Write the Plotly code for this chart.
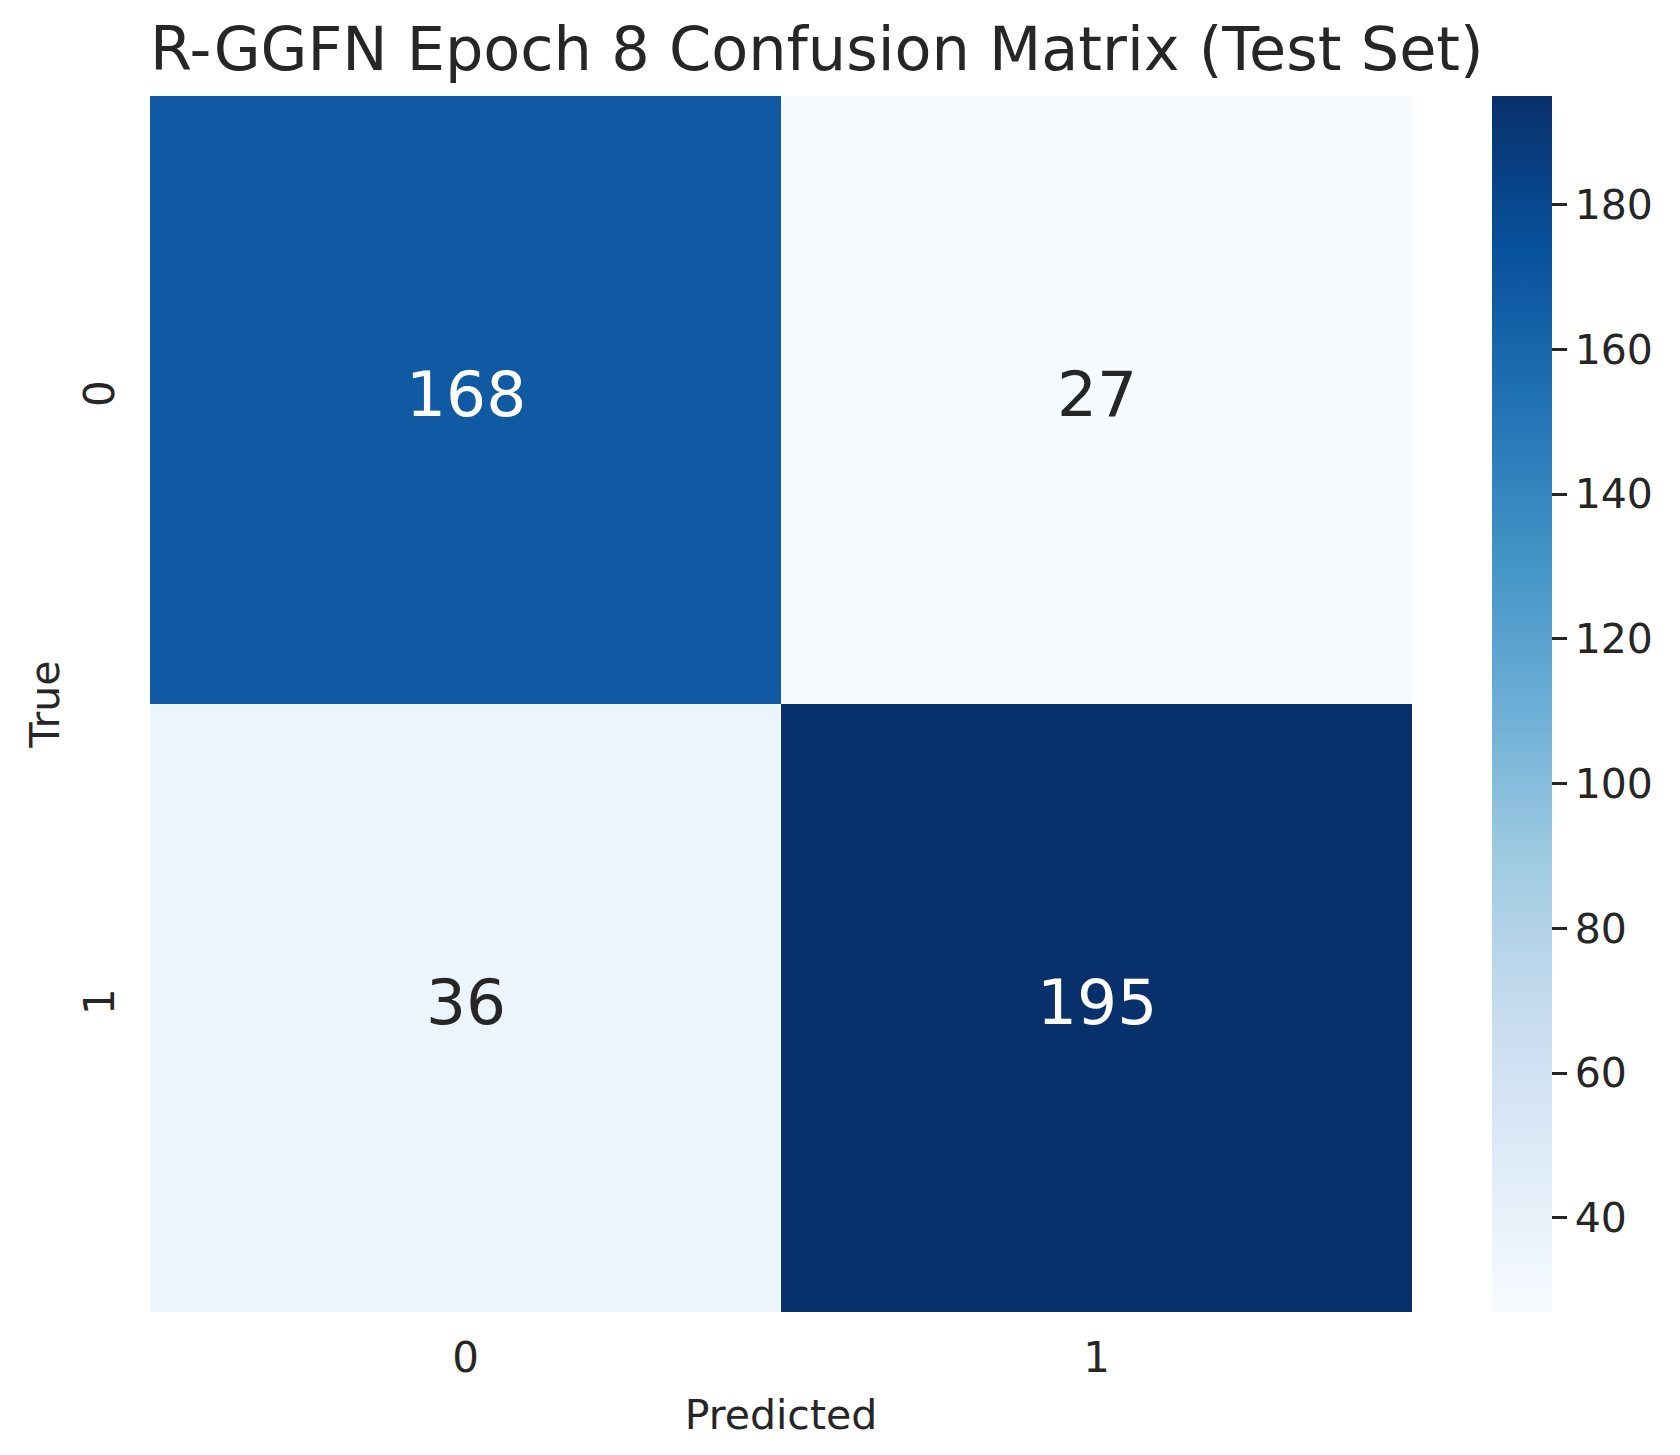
import plotly.graph_objects as go

# confusion matrix for the test set, epoch 8
class_labels = ["0", "1"]
counts = [[168, 27],
          [36, 195]]
cbar_ticks = [40, 60, 80, 100, 120, 140, 160, 180]

title_text = "R-GGFN Epoch 8 Confusion Matrix (Test Set)"
font_family = "DejaVu Sans"
ink = "#262626"


def main():
    flat = [v for row in counts for v in row]
    zmin, zmax = min(flat), max(flat)

    fig = go.Figure(go.Heatmap(
        z=counts,
        x=class_labels,
        y=class_labels,
        colorscale="Blues",
        zmin=zmin,
        zmax=zmax,
        hoverinfo="skip",
        colorbar=dict(
            x=1.0634, xanchor="left", xpad=0,
            y=0.5, yanchor="middle", ypad=0,
            len=1, lenmode="fraction",
            thickness=60, thicknessmode="pixels",
            outlinewidth=0,
            tickvals=cbar_ticks,
            ticks="outside", ticklen=15, tickwidth=2.5, tickcolor=ink,
            tickfont=dict(size=41, color=ink, family=font_family),
        ),
    ))

    # cell counts, white on the dark cells like seaborn does
    mid = (zmin + zmax) / 2
    for i, row_lab in enumerate(class_labels):
        for j, col_lab in enumerate(class_labels):
            v = counts[i][j]
            fig.add_annotation(
                x=col_lab, y=row_lab, text=str(v), showarrow=False,
                yshift=6,
                font=dict(size=63, family=font_family,
                          color="white" if v > mid else ink),
            )

    fig.update_xaxes(
        title=dict(text="Predicted", standoff=19,
                   font=dict(size=41, color=ink, family=font_family)),
        tickfont=dict(size=42, color=ink, family=font_family),
        ticks="", showgrid=False, zeroline=False, showline=False,
        ticklabelstandoff=17,
    )
    fig.update_yaxes(
        title=dict(text="True", standoff=2,
                   font=dict(size=41, color=ink, family=font_family)),
        tickfont=dict(size=42, color=ink, family=font_family),
        ticks="", showgrid=False, zeroline=False, showline=False,
        tickangle=-90, autorange="reversed",
        ticklabelstandoff=27,
    )

    fig.update_layout(
        width=1680, height=1455,
        margin=dict(l=142, r=276, t=88, b=151),
        paper_bgcolor="white", plot_bgcolor="white",
        title=dict(text=title_text, x=0, xref="paper", xanchor="left",
                   y=1 - 41 / 1455, yref="container", yanchor="middle",
                   font=dict(size=60.5, color=ink, family=font_family)),
    )
    fig.write_html("out.html")


main()
